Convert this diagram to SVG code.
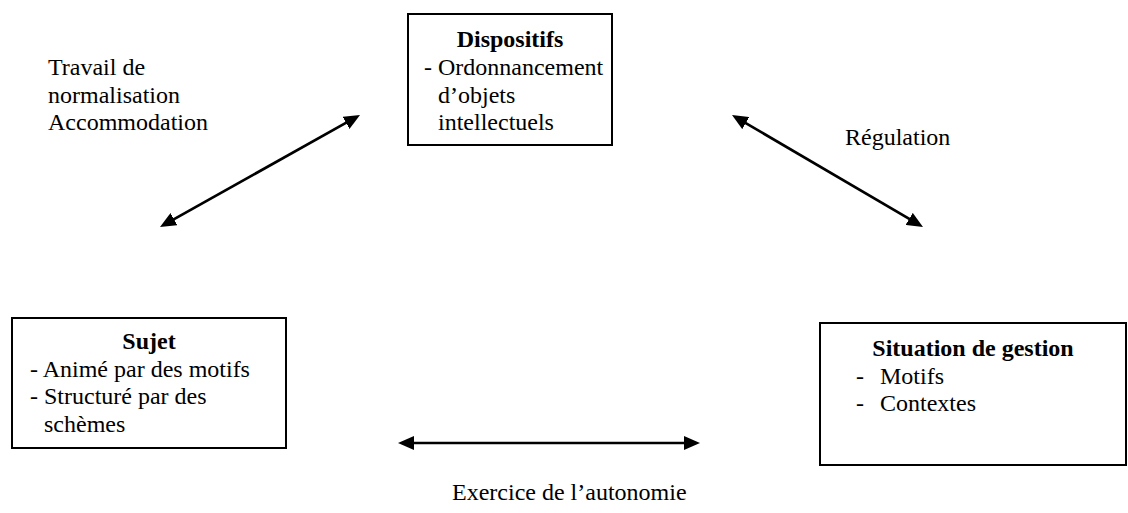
<svg xmlns="http://www.w3.org/2000/svg" width="1128" height="513" viewBox="0 0 1128 513">
<style>
.box{fill:#fff;stroke:#000;stroke-width:2}
text{font-family:"Liberation Serif","Times New Roman",serif;font-size:24px;fill:#000}
.b{font-weight:bold}
.arr{stroke:#000;stroke-width:2.7;fill:none;marker-start:url(#ah);marker-end:url(#ah)}
</style>
<defs>
<marker id="ah" markerUnits="userSpaceOnUse" markerWidth="16" markerHeight="14" refX="8" refY="7" orient="auto-start-reverse">
<path d="M0,0 L16,7 L0,14 z" fill="#000"/>
</marker>
</defs>
<rect width="1128" height="513" fill="#fff"/>
<g id="connectors">
<line class="arr" x1="166.98" y1="223.09" x2="353.02" y2="118.91"/>
<line class="arr" x1="738.9" y1="119.05" x2="916.1" y2="222.95"/>
<line class="arr" x1="406" y1="443" x2="692" y2="443"/>
</g>
<g id="dispositifs">
<rect class="box" x="408" y="14" width="204" height="131"/>
<text class="b" x="510" y="47" text-anchor="middle">Dispositifs</text>
<text x="424" y="75">- Ordonnancement</text>
<text x="438" y="102.5">d’objets</text>
<text x="438" y="130">intellectuels</text>
</g>
<g id="sujet">
<rect class="box" x="12" y="318" width="274" height="130"/>
<text class="b" x="149" y="349" text-anchor="middle">Sujet</text>
<text x="30" y="376.6">- Animé par des motifs</text>
<text x="30" y="404.2">- Structuré par des</text>
<text x="44" y="431.8">schèmes</text>
</g>
<g id="situation">
<rect class="box" x="820" y="323" width="306" height="142"/>
<text class="b" x="973" y="356" text-anchor="middle">Situation de gestion</text>
<text x="856" y="383.6">-</text>
<text x="880" y="383.6">Motifs</text>
<text x="856" y="411.2">-</text>
<text x="880" y="411.2">Contextes</text>
</g>
<g id="labels">
<text x="48" y="75">Travail de</text>
<text x="48" y="102.6">normalisation</text>
<text x="48" y="130">Accommodation</text>
<text x="845" y="145">Régulation</text>
<text x="452" y="500">Exercice de l’autonomie</text>
</g>
</svg>
